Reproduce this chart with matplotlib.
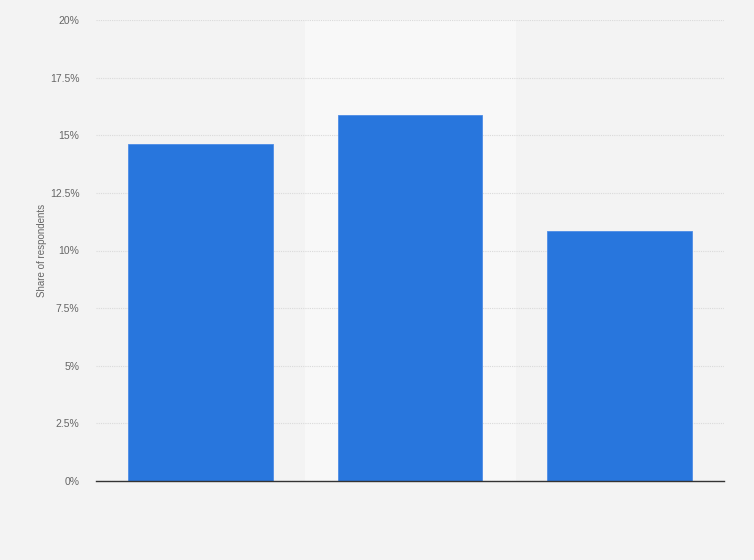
import matplotlib.pyplot as plt
from matplotlib.ticker import FuncFormatter

plt.rcParams['font.family'] = ['Liberation Sans', 'DejaVu Sans']

# values (share of respondents, %)
categories = ['A', 'B', 'C']
shares = [14.6, 15.9, 10.85]
y_ticks = [0, 2.5, 5, 7.5, 10, 12.5, 15, 17.5, 20]

fig = plt.figure(figsize=(7.54, 5.6), dpi=100)
fig.patch.set_facecolor('#f3f3f3')
ax = fig.add_axes([96/754, 79/560, 628/754, 461/560])
ax.set_facecolor('#f3f3f3')

x = range(len(categories))
# highlighted band behind the middle bar
ax.axvspan(0.5, 1.5, color='#f8f8f8', zorder=0)

ax.bar(x, shares, width=0.69, color='#2876dd', edgecolor='#4d8ce6', linewidth=0.6, zorder=3)

ax.set_xlim(-0.5, 2.5)
ax.set_ylim(0, 20)
ax.set_yticks(y_ticks)
ax.yaxis.set_major_formatter(FuncFormatter(lambda v, p: f'{v:g}%'))
ax.set_xticks([])
ax.grid(axis='y', color='#dadada', linestyle=(0, (1, 1)), linewidth=0.8, zorder=1)
ax.tick_params(axis='y', length=0, labelsize=7.5, labelcolor='#666666', pad=12)

for side in ['top', 'right', 'left']:
    ax.spines[side].set_visible(False)
ax.spines['bottom'].set_color('#333333')
ax.spines['bottom'].set_linewidth(1.0)
ax.spines['bottom'].set_zorder(4)

ax.set_ylabel('Share of respondents', fontsize=7, color='#666666')
ax.yaxis.set_label_coords(-0.078, 0.5)

fig.savefig('out.png', dpi=100, facecolor=fig.get_facecolor())
